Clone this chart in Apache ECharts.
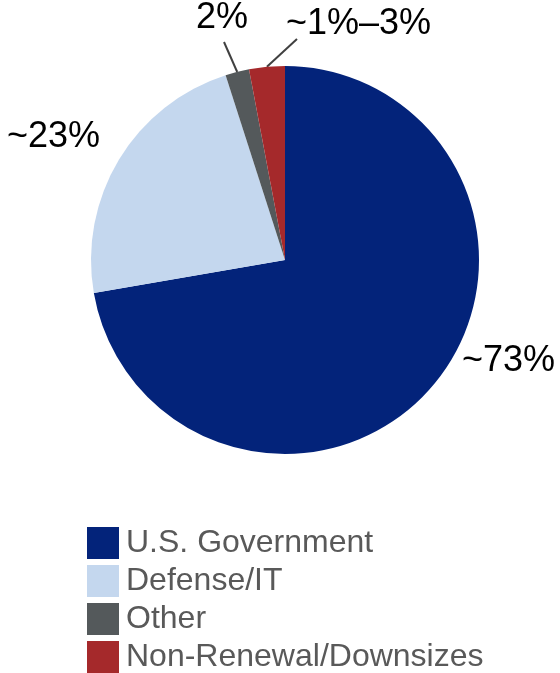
<!DOCTYPE html>
<html>
<head>
<meta charset="utf-8">
<script src="https://cdn.jsdelivr.net/npm/echarts@6/dist/echarts.min.js"></script>
<style>
  html, body { margin: 0; padding: 0; background: #fff; }
  #chart { width: 560px; height: 673px; }
</style>
</head>
<body>
<div id="chart"></div>
<script>
// Revenue mix by customer segment
const categories = ['U.S. Government', 'Defense/IT', 'Other', 'Non-Renewal/Downsizes'];
const shares = [73, 23, 2, 3];
const sliceLabels = ['~73%', '~23%', '2%', '~1%\u20133%'];
const sliceColors = ['#03237A', '#C4D7EE', '#54595B', '#A5292B'];

// Where each slice label sits, and where its leader line ends (if any)
const labelSpots = [
  { x: 462, y: 361 },
  { x: 7, y: 137 },
  { x: 196, y: 18 },
  { x: 286, y: 24 }
];
const leaderEnds = [null, null, [224, 42], [297, 39]];

const chart = echarts.init(document.getElementById('chart'), null, { renderer: 'canvas' });

const FONT = '"Liberation Sans", Arial, Helvetica, sans-serif';

chart.setOption({
  animation: false,
  backgroundColor: '#ffffff',
  color: sliceColors,
  legend: {
    orient: 'vertical',
    left: 87,
    top: 527,
    height: 160,
    padding: 0,
    icon: 'rect',
    itemWidth: 32,
    itemHeight: 32,
    itemGap: 6,
    selectedMode: false,
    data: categories,
    textStyle: {
      fontFamily: FONT,
      fontSize: 32,
      color: '#595959',
      padding: [0, 0, 0, 2]
    }
  },
  series: [{
    type: 'pie',
    center: [285, 260],
    radius: 194,
    startAngle: 90,
    clockwise: true,
    avoidLabelOverlap: false,
    silent: true,
    label: {
      show: true,
      position: 'outside',
      fontFamily: FONT,
      fontSize: 36,
      color: '#000000',
      formatter: p => sliceLabels[p.dataIndex]
    },
    labelLine: {
      show: true,
      length: 10,
      length2: 10,
      lineStyle: { color: '#404040', width: 2 }
    },
    labelLayout: function (params) {
      const i = params.dataIndex;
      const spot = labelSpots[i];
      const out = { x: spot.x, y: spot.y, align: 'left', verticalAlign: 'middle' };
      if (leaderEnds[i] && params.labelLinePoints) {
        out.labelLinePoints = [params.labelLinePoints[0], leaderEnds[i], leaderEnds[i]];
      }
      return out;
    },
    data: categories.map((name, i) => ({
      name: name,
      value: shares[i],
      labelLine: { show: leaderEnds[i] !== null }
    }))
  }]
});
</script>
</body>
</html>
